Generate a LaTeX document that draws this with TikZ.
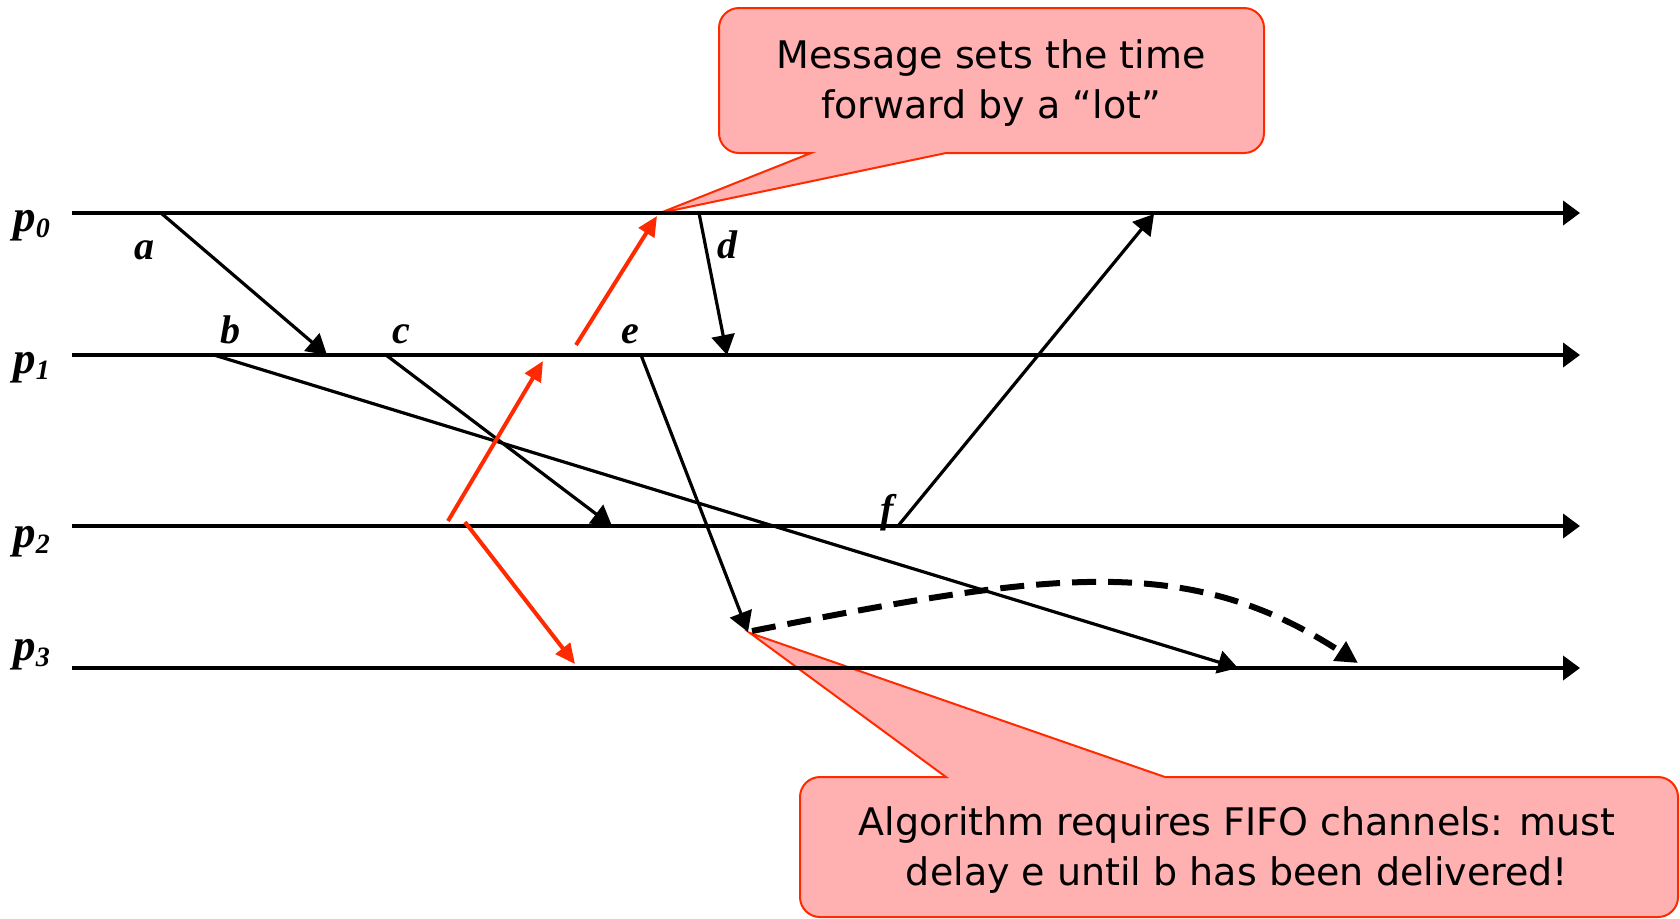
\documentclass[tikz,border=0pt]{standalone}
\usepackage{fontspec}
\setmainfont{Liberation Serif}
\newfontfamily\calloutfont{DejaVu Sans}
\usetikzlibrary{arrows.meta}

\definecolor{alarm}{HTML}{FF2A00}
\definecolor{notefill}{HTML}{FFB0B0}

\tikzset{
  timeline/.style={line width=2pt, -{Triangle[length=8.5pt,width=12pt]}},
  msg/.style={line width=1.6pt, -{Triangle[length=10pt,width=11.5pt]}},
  redmsg/.style={draw=alarm, line width=2pt, -{Triangle[length=10pt,width=9pt]}},
  waitarrow/.style={line width=3pt, dash pattern=on 12pt off 6pt, -{Triangle[length=11pt,width=11pt]}},
  callout/.style={draw=alarm, fill=notefill, line width=1pt},
  proclabel/.style={inner sep=0pt, anchor=base west, font=\fontsize{22.5}{22.5}\selectfont\bfseries\itshape},
  eventlabel/.style={inner sep=0pt, anchor=base, font=\fontsize{20}{20}\selectfont\bfseries\itshape},
  notetext/.style={inner sep=0pt, align=center, font=\calloutfont\fontsize{19}{25}\selectfont},
}

% process name with a lowered, smaller index
\newcommand{\procname}[1]{p\raisebox{-3pt}{\fontsize{14}{14}\selectfont #1}}

\begin{document}
\begin{tikzpicture}[x=0.5pt,y=-0.5pt]
\useasboundingbox (0,0) rectangle (1680,918);

% ---- speech bubbles ----
\draw[callout] (1000,153) [rounded corners=10pt] -- (1264,153) -- (1264,8) -- (719,8)
  -- (719,153) -- (790,153) [sharp corners] -- (811,153) -- (660,213) -- (946,153) -- cycle;
\node[notetext] (note1) at (991,83) {Message sets the time\\forward by a “lot”};

\draw[callout] (1300,777) [rounded corners=10pt] -- (1678,777) -- (1678,917) -- (800,917)
  -- (800,777) -- (925,777) [sharp corners] -- (946,777) -- (750,633) -- (1165,777) -- cycle;
\node[notetext] (note2) at (1237,850) {Algorithm requires FIFO channels: must\\delay e until b has been delivered!};

% ---- process time lines ----
\coordinate (p0s) at (72,213);  \coordinate (p0e) at (1580,213);
\coordinate (p1s) at (72,355);  \coordinate (p1e) at (1580,355);
\coordinate (p2s) at (72,526);  \coordinate (p2e) at (1580,526);
\coordinate (p3s) at (72,668);  \coordinate (p3e) at (1580,668);

\draw[timeline] (p0s) -- (p0e);
\draw[timeline] (p1s) -- (p1e);
\draw[timeline] (p2s) -- (p2e);
\draw[timeline] (p3s) -- (p3e);

\node[proclabel] (lp0) at (13,231) {\procname{0}};
\node[proclabel] (lp1) at (13,373) {\procname{1}};
\node[proclabel] (lp2) at (13,547) {\procname{2}};
\node[proclabel] (lp3) at (13,660) {\procname{3}};

% ---- send / receive events ----
\coordinate (aS) at (161,213);  \coordinate (aR) at (327,355);
\coordinate (bS) at (214,355);  \coordinate (bR) at (1238,668);
\coordinate (cS) at (386,355);  \coordinate (cR) at (612,526);
\coordinate (dS) at (699,213);  \coordinate (dR) at (727,355);
\coordinate (eS) at (641,355);  \coordinate (eR) at (748,632);
\coordinate (fS) at (898,526);  \coordinate (fR) at (1154,214);

\draw[msg] (aS) -- (aR);
\draw[msg] (bS) -- (bR);
\draw[msg] (cS) -- (cR);
\draw[msg] (dS) -- (dR);
\draw[msg] (eS) -- (eR);
\draw[msg] (fS) -- (fR);

\node[eventlabel] (la) at (144,259) {a};
\node[eventlabel] (lb) at (230,343) {b};
\node[eventlabel] (lc) at (401,343) {c};
\node[eventlabel] (ld) at (727,258) {d};
\node[eventlabel] (le) at (630,343) {e};
\node[eventlabel] (lf) at (887,522) {f};

% ---- messages with a large timestamp ----
\coordinate (r1S) at (448,521);  \coordinate (r1R) at (543,361);
\coordinate (r2S) at (576,345);  \coordinate (r2R) at (657,216);
\coordinate (r3S) at (465,522);  \coordinate (r3R) at (575,664);

\draw[redmsg] (r1S) -- (r1R);
\draw[redmsg] (r2S) -- (r2R);
\draw[redmsg] (r3S) -- (r3R);

% ---- delayed delivery of e ----
\coordinate (wS) at (752,631);
\coordinate (wR) at (1358,663);
\draw[waitarrow] (wS) .. controls (1050,572) and (1188,552) .. (wR);

\end{tikzpicture}
\end{document}
